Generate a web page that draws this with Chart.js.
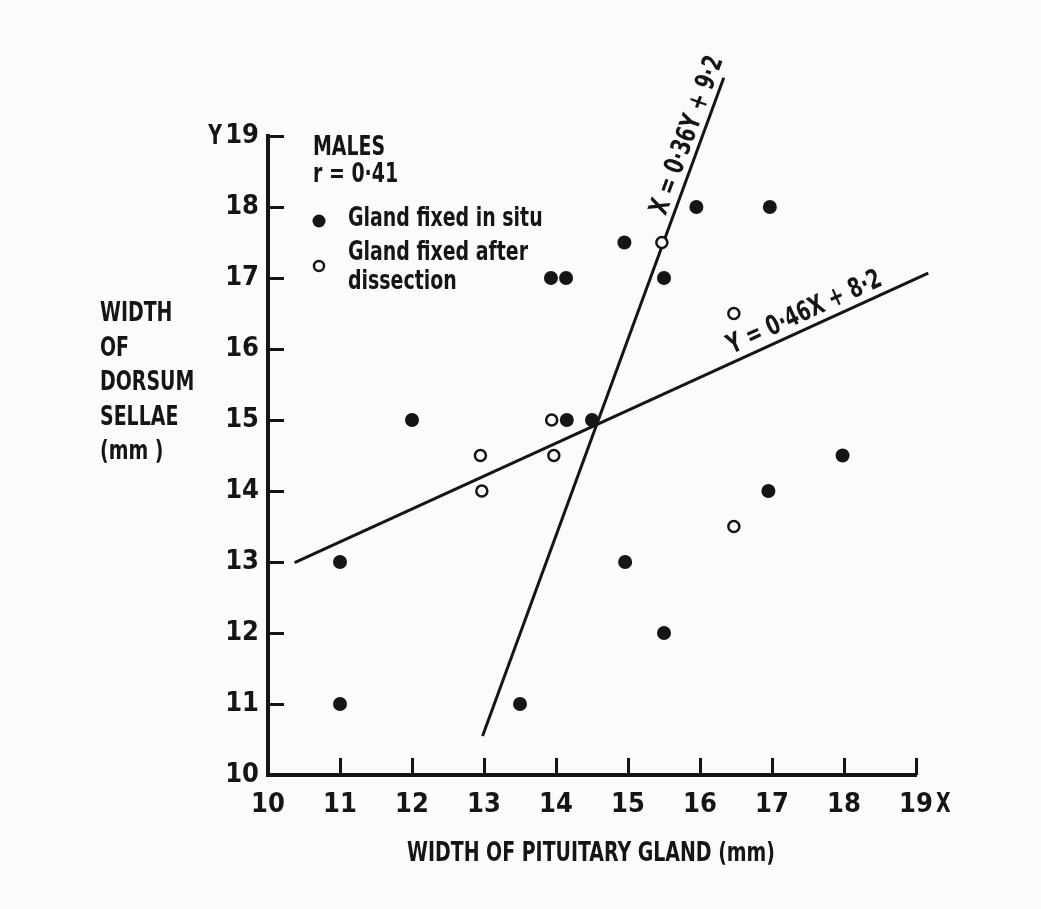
<!DOCTYPE html>
<html>
<head>
<meta charset="utf-8">
<script src="https://cdn.jsdelivr.net/npm/chart.js@4"></script>
<style>
  html, body { margin: 0; padding: 0; background: #fbfbf9; }
  canvas { display: block; }
</style>
</head>
<body>
<canvas id="pituitaryChart" width="1041" height="909"></canvas>
<script>
// values (mm)
const xTicks = [10, 11, 12, 13, 14, 15, 16, 17, 18, 19];
const yTicks = [10, 11, 12, 13, 14, 15, 16, 17, 18, 19];

// gland fixed in situ (filled circles)
const inSituX = [11, 11, 12, 13.5, 13.93, 14.14, 14.15, 14.5, 14.95, 14.96, 15.5, 15.5, 15.95, 16.97, 16.95, 17.98];
const inSituY = [13, 11, 15, 11, 17, 17, 15, 15, 17.5, 13, 17, 12, 18, 18, 14, 14.5];

// gland fixed after dissection (open circles)
const dissectX = [12.95, 12.97, 13.94, 13.97, 15.47, 16.47, 16.47];
const dissectY = [14.5, 14, 15, 14.5, 17.5, 16.5, 13.5];

// regression lines, end points as drawn
const yOnXLine = [[10.37, 12.99], [19.17, 17.07]];   // Y = 0.46X + 8.2
const xOnYLine = [[12.98, 10.55], [16.33, 19.82]];   // X = 0.36Y + 9.2

const INK = '#151515';
const PAPER = '#fbfbf9';
const FONT = '"DejaVu Sans Condensed", "Liberation Sans Narrow", sans-serif';
const FONT_SIZE = 27;
const SQUEEZE = 0.78;   // the original lettering is very narrow

const toPoints = (xs, ys) => xs.map((x, i) => ({ x: x, y: ys[i] }));
const pairs = arr => arr.map(p => ({ x: p[0], y: p[1] }));

function narrowText(c, text, x, y) {
    c.save();
    c.translate(x, y);
    c.scale(SQUEEZE, 1);
    c.fillText(text, 0, 0);
    c.restore();
}

const textPlugin = {
    id: 'figureText',
    afterDraw(chart) {
        const c = chart.ctx;
        const xs = chart.scales.x, ys = chart.scales.y;
        const area = chart.chartArea;
        c.save();
        c.fillStyle = INK;
        c.strokeStyle = INK;

        // inward tick marks
        c.lineWidth = 3;
        c.beginPath();
        xTicks.slice(1).forEach(v => {
            const px = Math.round(xs.getPixelForValue(v)) + 0.5;
            c.moveTo(px, area.bottom);
            c.lineTo(px, area.bottom - 17);
        });
        yTicks.slice(1).forEach(v => {
            const py = Math.round(ys.getPixelForValue(v)) + 0.5;
            c.moveTo(area.left, py);
            c.lineTo(area.left + 16, py);
        });
        c.stroke();

        c.font = 'bold ' + FONT_SIZE + 'px ' + FONT;
        c.textBaseline = 'middle';

        // axis letters next to the last tick labels
        c.textAlign = 'right';
        narrowText(c, 'Y', 222, ys.getPixelForValue(19) + 1);
        c.textAlign = 'left';
        narrowText(c, 'X', 936, 805);

        // y axis title
        c.textAlign = 'left';
        ['WIDTH', 'OF', 'DORSUM', 'SELLAE', '(mm )'].forEach((t, i) => {
            narrowText(c, t, 100, 314 + i * 34.5);
        });

        // x axis title
        c.textAlign = 'center';
        narrowText(c, 'WIDTH OF PITUITARY GLAND (mm)', 591, 854);

        // legend block
        c.textAlign = 'left';
        narrowText(c, 'MALES', 313, 148);
        narrowText(c, 'r = 0·41', 313, 175);
        narrowText(c, 'Gland fixed in situ', 348, 219);
        narrowText(c, 'Gland fixed after', 348, 253);
        narrowText(c, 'dissection', 348, 282);
        c.beginPath();
        c.arc(319, 221, 6.5, 0, Math.PI * 2);
        c.fill();
        c.beginPath();
        c.lineWidth = 2.5;
        c.fillStyle = PAPER;
        c.arc(319, 266, 5, 0, Math.PI * 2);
        c.fill();
        c.stroke();
        c.fillStyle = INK;

        // equation labels along the lines
        const label = (line, t, text, gap) => {
            const x0 = xs.getPixelForValue(line[0][0]), y0 = ys.getPixelForValue(line[0][1]);
            const x1 = xs.getPixelForValue(line[1][0]), y1 = ys.getPixelForValue(line[1][1]);
            const ang = Math.atan2(y1 - y0, x1 - x0);
            c.save();
            c.translate(x0 + (x1 - x0) * t, y0 + (y1 - y0) * t);
            c.rotate(ang);
            c.scale(SQUEEZE, 1);
            c.textAlign = 'center';
            c.textBaseline = 'alphabetic';
            c.fillText(text, 0, -gap);
            c.restore();
        };
        label(xOnYLine, 0.905, 'X = 0·36Y + 9·2', 7);
        label(yOnXLine, 0.815, 'Y = 0·46X + 8·2', 8);

        c.restore();
    }
};

const ctx = document.getElementById('pituitaryChart').getContext('2d');
const pituitaryChart = new Chart(ctx, {
    type: 'scatter',
    data: {
        datasets: [{
            label: 'Gland fixed in situ',
            data: toPoints(inSituX, inSituY),
            pointRadius: 7,
            backgroundColor: INK,
            borderWidth: 0
        }, {
            label: 'Gland fixed after dissection',
            data: toPoints(dissectX, dissectY),
            pointRadius: 5.5,
            backgroundColor: PAPER,
            borderColor: INK,
            borderWidth: 2.5
        }, {
            label: 'Y = 0.46X + 8.2',
            data: pairs(yOnXLine),
            showLine: true,
            pointRadius: 0,
            borderColor: INK,
            borderWidth: 3,
            clip: false
        }, {
            label: 'X = 0.36Y + 9.2',
            data: pairs(xOnYLine),
            showLine: true,
            pointRadius: 0,
            borderColor: INK,
            borderWidth: 3,
            clip: false
        }]
    },
    options: {
        responsive: false,
        animation: false,
        layout: {
            padding: { top: 136, right: 125, left: 0, bottom: 0 }
        },
        scales: {
            x: {
                type: 'linear',
                min: 10,
                max: 19,
                afterFit: s => { s.height = 134; },
                afterBuildTicks: s => { s.ticks = xTicks.map(v => ({ value: v })); },
                grid: { display: false, drawTicks: false, tickLength: 0 },
                border: { display: true, color: INK, width: 4 },
                ticks: {
                    color: INK,
                    padding: 14,
                    font: { family: FONT, size: FONT_SIZE, weight: 'bold' }
                }
            },
            y: {
                type: 'linear',
                min: 10,
                max: 19,
                afterFit: s => { s.width = 268; },
                afterBuildTicks: s => { s.ticks = yTicks.map(v => ({ value: v })); },
                grid: { display: false, drawTicks: false, tickLength: 0 },
                border: { display: true, color: INK, width: 4 },
                ticks: {
                    color: INK,
                    padding: 9,
                    font: { family: FONT, size: FONT_SIZE, weight: 'bold' }
                }
            }
        },
        plugins: {
            legend: { display: false },
            tooltip: { enabled: false }
        }
    },
    plugins: [textPlugin]
});
</script>
</body>
</html>
